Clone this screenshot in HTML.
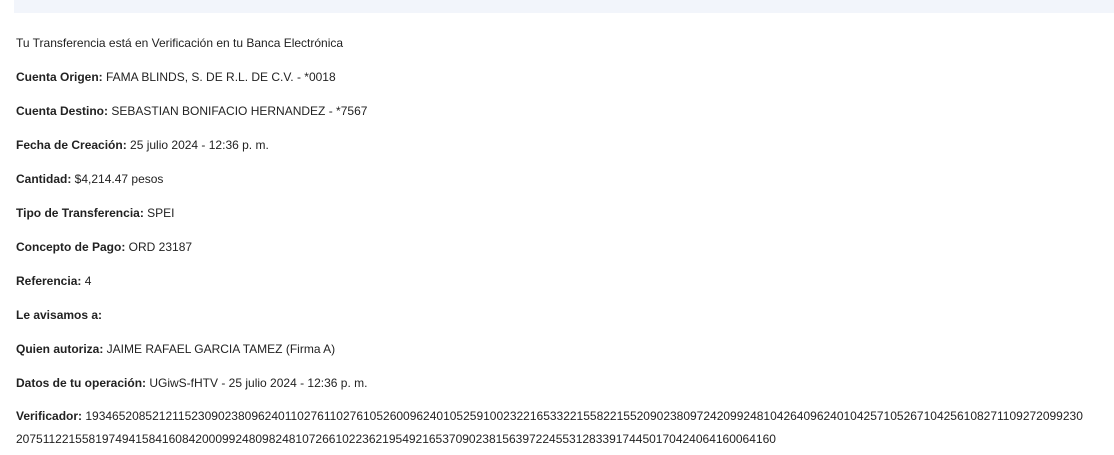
<!DOCTYPE html>
<html><head><meta charset="utf-8"><style>
body{margin:0;width:1114px;height:455px;background:#fff;position:relative;overflow:hidden;font-family:"Liberation Sans",Arial,sans-serif;font-size:12px;color:#222}
.band{position:absolute;left:14px;top:0;width:1100px;height:13px;background:#f2f5fb}
.l{position:absolute;left:16px;line-height:14px;white-space:nowrap}
b{font-weight:bold;color:#222}
</style></head><body>
<div class="band"></div>
<div class="l" style="top:36px">Tu Transferencia está en Verificación en tu Banca Electrónica</div>
<div class="l" style="top:70px"><b>Cuenta Origen:</b> FAMA BLINDS, S. DE R.L. DE C.V. - *0018</div>
<div class="l" style="top:104px"><b>Cuenta Destino:</b> SEBASTIAN BONIFACIO HERNANDEZ - *7567</div>
<div class="l" style="top:138px"><b>Fecha de Creación:</b> 25 julio 2024 - 12:36 p. m.</div>
<div class="l" style="top:172px"><b>Cantidad:</b> $4,214.47 pesos</div>
<div class="l" style="top:206px"><b>Tipo de Transferencia:</b> SPEI</div>
<div class="l" style="top:240px"><b>Concepto de Pago:</b> ORD 23187</div>
<div class="l" style="top:274px"><b>Referencia:</b> 4</div>
<div class="l" style="top:308px"><b>Le avisamos a:</b></div>
<div class="l" style="top:342px"><b>Quien autoriza:</b> JAIME RAFAEL GARCIA TAMEZ (Firma A)</div>
<div class="l" style="top:376px"><b>Datos de tu operación:</b> UGiwS-fHTV - 25 julio 2024 - 12:36 p. m.</div>
<div class="l" style="top:409px"><b>Verificador:</b> 193465208521211523090238096240110276110276105260096240105259100232216533221558221552090238097242099248104264096240104257105267104256108271109272099230</div>
<div class="l" style="top:432px">207511221558197494158416084200099248098248107266102236219549216537090238156397224553128339174450170424064160064160</div>
</body></html>
